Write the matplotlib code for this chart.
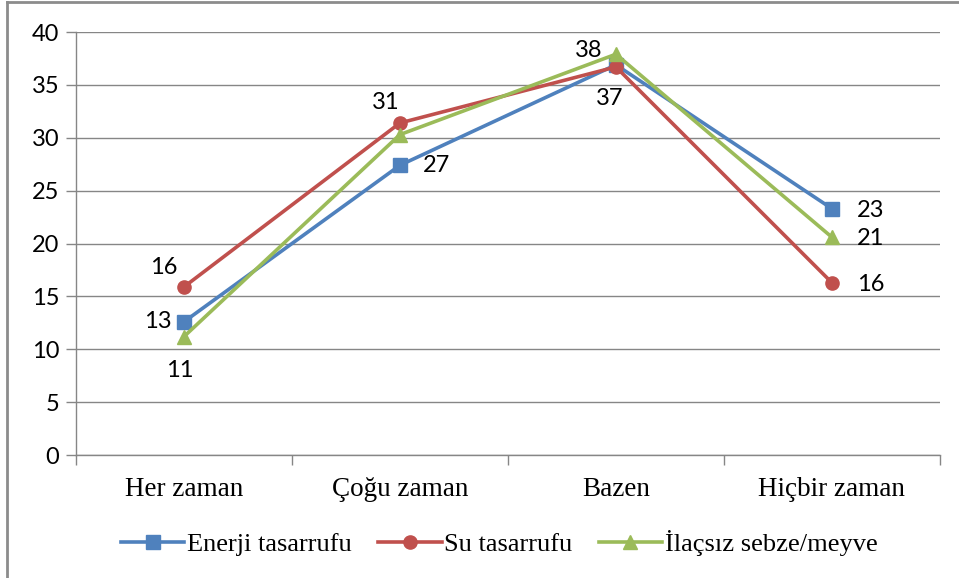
import matplotlib.pyplot as plt
from matplotlib.lines import Line2D

# categories and series values (percent)
categories = ['Her zaman', 'Çoğu zaman', 'Bazen', 'Hiçbir zaman']
enerji = [12.6, 27.4, 36.9, 23.3]
su = [15.9, 31.4, 36.7, 16.3]
ilacsiz = [11.2, 30.3, 37.9, 20.6]
series_names = ['Enerji tasarrufu', 'Su tasarrufu', 'İlaçsız sebze/meyve']

colors = ['#4F81BD', '#C0504D', '#9BBB59']
markers = ['s', 'o', '^']

# which point gets a data label: (series index, category index, dx px, dy px, ha)
label_spots = [
    (1, 0, -20, 19, 'center'), (0, 0, -12, 0, 'right'), (2, 0, -4, -34, 'center'),
    (1, 1, -14, 20, 'center'), (0, 1, 23, 0, 'left'),
    (2, 2, -27, 4, 'center'), (1, 2, -6, -32, 'center'),
    (0, 3, 25, -2, 'left'), (2, 3, 25, -1, 'left'), (1, 3, 25, -2, 'left'),
]

fig = plt.figure(figsize=(9.59, 5.78), dpi=100)
ax = fig.add_axes([0.0793, 0.2128, 0.9007, 0.7318])

all_series = [enerji, su, ilacsiz]
x = list(range(len(categories)))
for vals, name, c, m in zip(all_series, series_names, colors, markers):
    ax.plot(x, vals, color=c, lw=2.6, marker=m, markersize=9.5,
            markeredgecolor=c, label=name, zorder=3)

for si, ci, dx, dy, ha in label_spots:
    v = all_series[si][ci]
    ax.annotate(f'{round(v)}', (ci, v), xytext=(dx, dy), textcoords='offset pixels',
                ha=ha, va='center', fontsize=17, family='Lato', color='#000000', zorder=4)

ax.set_xlim(-0.5, 3.5)
ax.set_ylim(0, 40)
ax.set_yticks(range(0, 41, 5))
ax.set_yticklabels([str(t) for t in range(0, 41, 5)], family='Lato', fontsize=17)
ax.grid(axis='y', color='#868686', lw=1)
ax.set_axisbelow(True)

ax.set_xticks(x)
ax.set_xticklabels(categories, family='Liberation Serif', fontsize=19.5)
ax.set_xticks([-0.5, 0.5, 1.5, 2.5, 3.5], minor=True)
ax.tick_params(axis='x', which='major', length=0, pad=16)
ax.tick_params(axis='x', which='minor', length=7, color='#868686', width=1)
ax.tick_params(axis='y', length=7, color='#868686', width=1, pad=5)

for s in ['top', 'right']:
    ax.spines[s].set_visible(False)
for s in ['left', 'bottom']:
    ax.spines[s].set_color('#868686')
    ax.spines[s].set_linewidth(1)

leg = ax.legend(loc='upper center', bbox_to_anchor=(0.49, -0.122), ncol=3, frameon=False,
                prop={'family': 'Liberation Serif', 'size': 19}, handlelength=2.4,
                handletextpad=0.1, columnspacing=1.0)

# chart frame (only left and top edges visible in the reference)
fig.add_artist(Line2D([0.0073, 0.0073], [0, 0.9965], transform=fig.transFigure,
                      color='#8C8C8C', lw=2))
fig.add_artist(Line2D([0.0073, 1], [0.9965, 0.9965], transform=fig.transFigure,
                      color='#8C8C8C', lw=2))

plt.savefig('out.png', dpi=100)
